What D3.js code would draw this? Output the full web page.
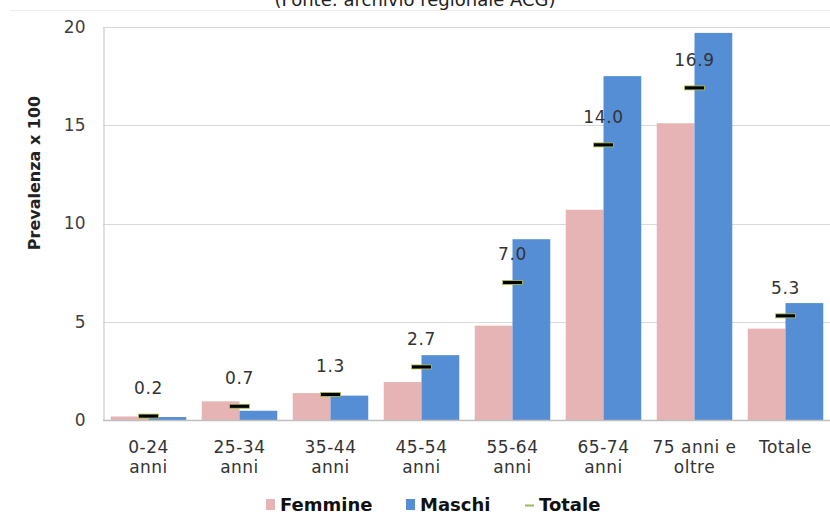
<!DOCTYPE html>
<html>
<head>
<meta charset="utf-8">
<script src="https://cdn.jsdelivr.net/npm/d3@7"></script>
<style>
  body { margin: 0; background: #fff; }
  svg { display: block; font-family: "DejaVu Sans", Verdana, sans-serif; }
</style>
</head>
<body>
<svg id="chart" width="830" height="522"></svg>
<script>
const categories = [['0-24', 'anni'], ['25-34', 'anni'], ['35-44', 'anni'], ['45-54', 'anni'],
  ['55-64', 'anni'], ['65-74', 'anni'], ['75 anni e', 'oltre'], ['Totale']];
const femmine = [0.18, 0.95, 1.37, 1.93, 4.8, 10.7, 15.1, 4.65];
const maschi = [0.15, 0.47, 1.24, 3.3, 9.2, 17.5, 19.7, 5.95];
const totale = [0.2, 0.7, 1.3, 2.7, 7.0, 14.0, 16.9, 5.3];
const yTicks = [0, 5, 10, 15, 20];

const svg = d3.select('#chart');
const idx = d3.range(categories.length);

const x = d3.scaleBand().domain(idx).range([103, 831]).paddingInner(0.17).paddingOuter(0.085);
const y = d3.scaleLinear().domain([0, 20]).range([420, 27]);

// title (cut off at the top in the original)
svg.append('text')
  .attr('x', 415).attr('y', 6)
  .attr('text-anchor', 'middle')
  .attr('font-size', 18).attr('fill', '#222')
  .text('(Fonte: archivio regionale ACG)');
svg.append('line')
  .attr('x1', 10).attr('x2', 830).attr('y1', 10.5).attr('y2', 10.5)
  .attr('stroke', '#eeeeee');

// gridlines
svg.append('g').selectAll('line')
  .data(yTicks.filter(d => d > 0))
  .join('line')
  .attr('x1', 103).attr('x2', 830)
  .attr('y1', d => Math.round(y(d)) + 0.5).attr('y2', d => Math.round(y(d)) + 0.5)
  .attr('stroke', '#d9d9d9');

// y axis
const yAxis = svg.append('g')
  .attr('transform', 'translate(103.5,0)')
  .call(d3.axisLeft(y).tickValues(yTicks).tickSize(0).tickPadding(18));
yAxis.select('.domain').attr('stroke', '#bfbfbf');
yAxis.selectAll('text').attr('font-size', 17).attr('fill', '#404040')
  .attr('font-family', '"DejaVu Sans", Verdana, sans-serif');

svg.append('text')
  .attr('transform', 'translate(40,173) rotate(-90)')
  .attr('text-anchor', 'middle')
  .attr('font-size', 16).attr('font-weight', 'bold').attr('fill', '#222')
  .text('Prevalenza x 100');

// bars
const half = x.bandwidth() / 2;
svg.append('g').selectAll('rect')
  .data(idx)
  .join('rect')
  .attr('x', i => x(i))
  .attr('y', i => y(femmine[i]))
  .attr('width', half)
  .attr('height', i => y(0) - y(femmine[i]))
  .attr('fill', '#e6b4b4');

svg.append('g').selectAll('rect')
  .data(idx)
  .join('rect')
  .attr('x', i => x(i) + half)
  .attr('y', i => y(maschi[i]))
  .attr('width', half)
  .attr('height', i => y(0) - y(maschi[i]))
  .attr('fill', '#568ed5');

// baseline
svg.append('line')
  .attr('x1', 103).attr('x2', 830).attr('y1', 420.5).attr('y2', 420.5)
  .attr('stroke', '#bfbfbf').attr('stroke-width', 1.5);

// totale markers + labels
const mk = svg.append('g');
mk.selectAll('rect')
  .data(idx)
  .join('rect')
  .attr('x', i => x(i) + half - 10)
  .attr('y', i => y(totale[i]) - 2)
  .attr('width', 20).attr('height', 4)
  .attr('fill', '#000')
  .attr('stroke', '#b8c64a').attr('stroke-width', 0.8);

mk.selectAll('text')
  .data(idx)
  .join('text')
  .attr('x', i => x(i) + half)
  .attr('y', i => y(totale[i]) - 22)
  .attr('text-anchor', 'middle')
  .attr('font-size', 17).attr('letter-spacing', 0.6).attr('fill', '#333')
  .text(i => totale[i].toFixed(1));

// x labels
const xl = svg.append('g');
idx.forEach(i => {
  const t = xl.append('text')
    .attr('x', x(i) + half)
    .attr('y', 453)
    .attr('text-anchor', 'middle')
    .attr('font-size', 17).attr('letter-spacing', 0.5).attr('fill', '#333');
  categories[i].forEach((s, k) => {
    t.append('tspan').attr('x', x(i) + half).attr('dy', k ? 20 : 0).text(s);
  });
});

// legend
const legend = [
  { name: 'Femmine', color: '#e6b4b4', type: 'box', x: 266 },
  { name: 'Maschi', color: '#568ed5', type: 'box', x: 406 },
  { name: 'Totale', color: '#9bbb59', type: 'line', x: 525 }
];
const lg = svg.append('g');
legend.forEach(d => {
  if (d.type === 'box') {
    lg.append('rect').attr('x', d.x).attr('y', 499).attr('width', 9).attr('height', 11).attr('fill', d.color);
  } else {
    lg.append('line').attr('x1', d.x).attr('x2', d.x + 9).attr('y1', 505.5).attr('y2', 505.5)
      .attr('stroke', d.color).attr('stroke-width', 2);
  }
  lg.append('text')
    .attr('x', d.x + 14).attr('y', 511)
    .attr('font-size', 18).attr('font-weight', 'bold').attr('fill', '#111')
    .text(d.name);
});
</script>
</body>
</html>
